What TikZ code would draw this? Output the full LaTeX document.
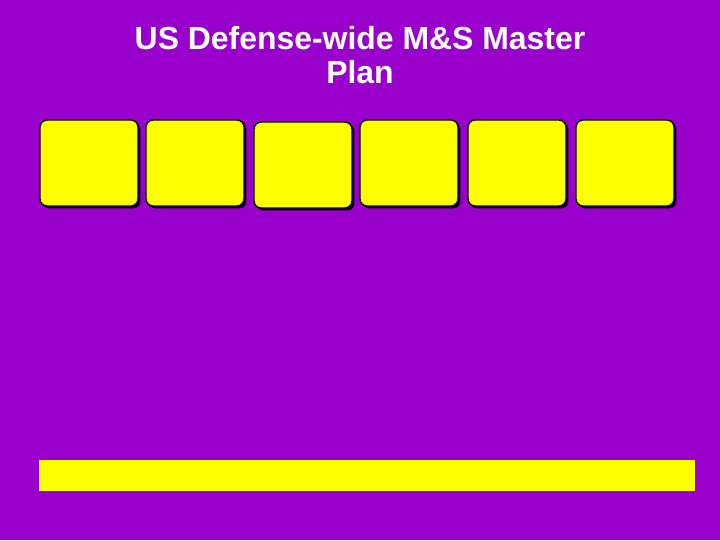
\documentclass[tikz,border=0pt]{standalone}
\usepackage{fontspec}
\setmainfont{Liberation Sans}
\usetikzlibrary{shadows}

\definecolor{slidepurple}{HTML}{9900CC}
\definecolor{slideyellow}{HTML}{FFFF00}

\tikzset{
	tile/.style={shape=rectangle,draw=black,line width=1pt,fill=slideyellow,rounded corners=5pt,
		minimum width=98*0.025cm,minimum height=86*0.025cm,
		drop shadow={shadow xshift=0.06cm,shadow yshift=-0.06cm,opacity=1,fill=black}},
	bar/.style={shape=rectangle,fill=slideyellow,inner sep=0pt,
		minimum width=656*0.025cm,minimum height=31*0.025cm},
	heading/.style={text=white,font=\bfseries\fontsize{22.7}{24.5}\selectfont,align=center}
}

\begin{document}
\begin{tikzpicture}[x=0.025cm,y=-0.025cm]
	
	\fill[slidepurple] (0,0) rectangle (720,540);
	\useasboundingbox (0,0) rectangle (720,540);
	
	\node[heading] (title) at (360,55) {US Defense-wide M\&S Master\\Plan};
	
	\node[tile] (box1) at (89,163)  {};
	\node[tile] (box2) at (195,163) {};
	\node[tile] (box3) at (303,165) {};
	\node[tile] (box4) at (409,163) {};
	\node[tile] (box5) at (517,163) {};
	\node[tile] (box6) at (625,163) {};
	
	\node[bar] (base) at (367,475.5) {};
	
\end{tikzpicture}
\end{document}
